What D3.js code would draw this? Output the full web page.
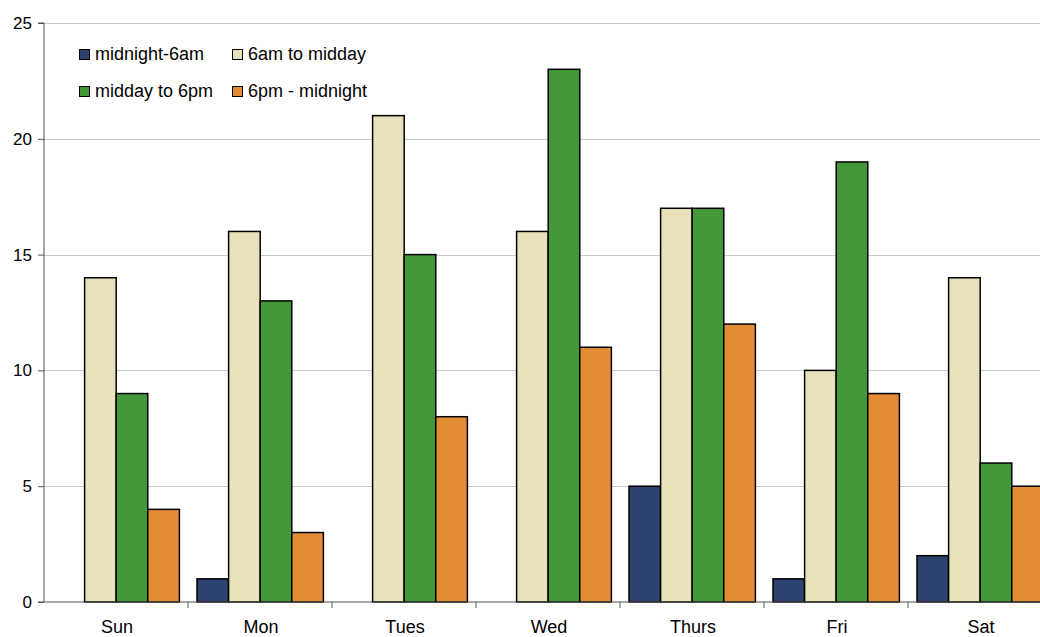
<!DOCTYPE html>
<html>
<head>
<meta charset="utf-8">
<script src="https://cdn.jsdelivr.net/npm/d3@7"></script>
<style>
  html, body { margin: 0; padding: 0; background: #fff; }
  svg { display: block; font-family: "Liberation Sans", Arial, sans-serif; }
</style>
</head>
<body>
<svg id="chart" width="1040" height="637"></svg>
<script>
// Days of the week shown along the bottom
const days = ["Sun", "Mon", "Tues", "Wed", "Thurs", "Fri", "Sat"];
// Time-of-day bands, one bar per band in each day
const periods = ["midnight-6am", "6am to midday", "midday to 6pm", "6pm - midnight"];
// Counts per day for each time band
const midnightTo6am = [0, 1, 0, 0, 5, 1, 2];
const sixamToMidday = [14, 16, 21, 16, 17, 10, 14];
const middayTo6pm = [9, 13, 15, 23, 17, 19, 6];
const sixpmToMidnight = [4, 3, 8, 11, 12, 9, 5];
const yTicks = [0, 5, 10, 15, 20, 25];
const colors = ["#2b416e", "#e9e1b9", "#43993a", "#e28d34"];

const seriesValues = [midnightTo6am, sixamToMidday, middayTo6pm, sixpmToMidnight];

const svg = d3.select("#chart");
const plotLeft = 44, plotTop = 23, plotBottom = 602;
const groupWidth = 144.0;

const x = d3.scaleBand().domain(days).range([plotLeft, plotLeft + groupWidth * days.length]).padding(0);
const xSub = d3.scaleBand().domain(periods).range([9, groupWidth - 8.6]).padding(0);
const y = d3.scaleLinear().domain([0, 25]).range([plotBottom, plotTop]);

// Horizontal gridlines
svg.append("g").selectAll("line").data(yTicks.slice(1)).join("line")
  .attr("x1", plotLeft).attr("x2", 1040)
  .attr("y1", d => Math.round(y(d)) + 0.5).attr("y2", d => Math.round(y(d)) + 0.5)
  .attr("stroke", "#c8c8c8").attr("stroke-width", 1);

// Bars
const rows = days.map((d, i) => periods.map((p, j) => ({ day: d, period: p, value: seriesValues[j][i], idx: j })));
svg.append("g").selectAll("g").data(rows).join("g")
  .attr("transform", r => `translate(${x(r[0].day)},0)`)
  .selectAll("rect").data(r => r.filter(d => d.value > 0)).join("rect")
  .attr("x", d => xSub(d.period))
  .attr("y", d => y(d.value))
  .attr("width", xSub.bandwidth())
  .attr("height", d => y(0) - y(d.value))
  .attr("fill", d => colors[d.idx])
  .attr("stroke", "#000").attr("stroke-width", 1.5);

// Y axis
const yAxis = svg.append("g").attr("transform", `translate(${plotLeft},0)`)
  .call(d3.axisLeft(y).tickValues(yTicks).tickSize(6).tickPadding(6));
yAxis.select(".domain").attr("stroke", "#555").attr("d", `M-6,${y(25)}H0V${y(0)}`);
yAxis.selectAll(".tick line").attr("stroke", "#555");
yAxis.selectAll(".tick text").attr("font-size", 17).attr("fill", "#000")
  .attr("font-family", "Liberation Sans, Arial, sans-serif");

// X axis with ticks at category boundaries
const xAxisG = svg.append("g").attr("transform", `translate(0,${plotBottom})`);
xAxisG.append("line").attr("x1", plotLeft - 6).attr("x2", 1040).attr("y1", 0).attr("y2", 0)
  .attr("stroke", "#555");
xAxisG.selectAll(".bt").data(days).join("line").attr("class", "bt")
  .attr("x1", d => x(d) + x.bandwidth()).attr("x2", d => x(d) + x.bandwidth())
  .attr("y1", 0).attr("y2", 6).attr("stroke", "#555");
xAxisG.selectAll("text").data(days).join("text")
  .attr("x", d => x(d) + x.bandwidth() / 2 + 1)
  .attr("y", 31)
  .attr("text-anchor", "middle")
  .attr("font-size", 18).attr("fill", "#000")
  .text(d => d);

// Legend
const legend = svg.append("g");
const legPos = [[79, 49], [232, 49], [79, 86], [232, 86]];
periods.forEach((p, i) => {
  const g = legend.append("g").attr("transform", `translate(${legPos[i][0]},${legPos[i][1]})`);
  g.append("rect").attr("x", 0.5).attr("y", 0.5).attr("width", 10).attr("height", 10)
    .attr("fill", colors[i]).attr("stroke", "#000").attr("stroke-width", 1);
  g.append("text").attr("x", 16).attr("y", 11).attr("font-size", 18).attr("fill", "#000").text(p);
});
</script>
</body>
</html>
